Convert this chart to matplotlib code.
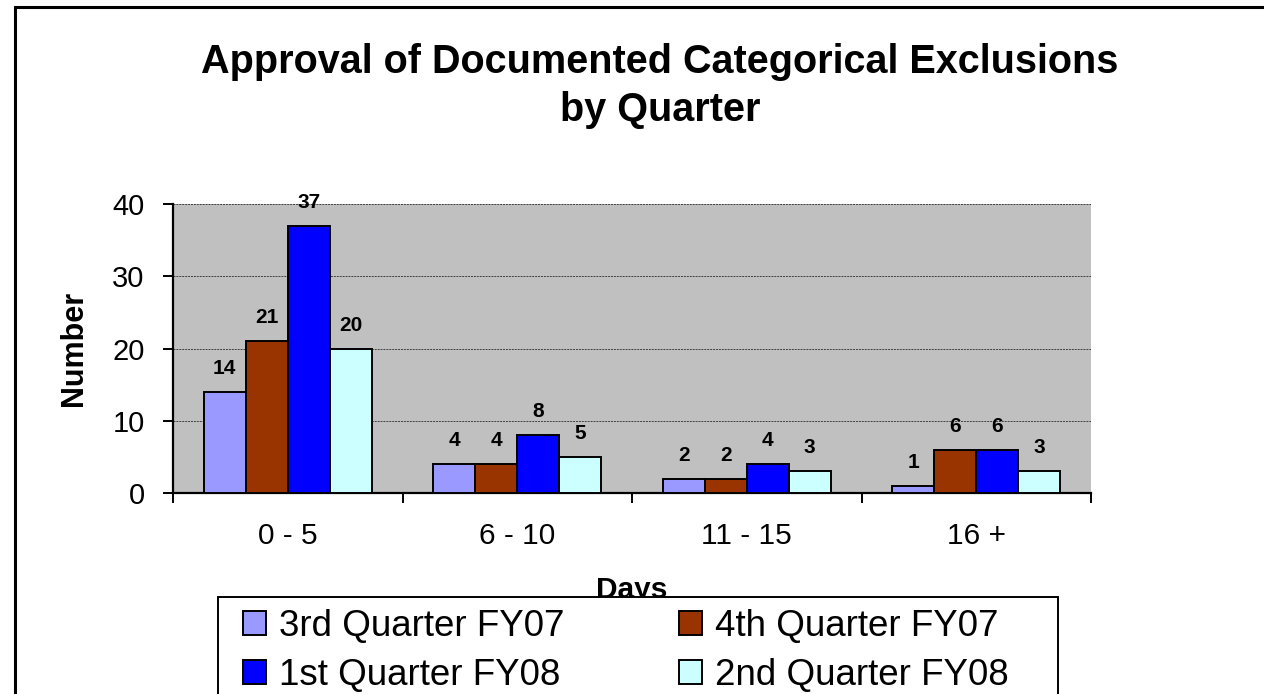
import numpy as np
import matplotlib.pyplot as plt
from matplotlib.patches import Rectangle

plt.rcParams['font.family'] = ['Liberation Sans', 'DejaVu Sans']

categories = ['0 - 5', '6 - 10', '11 - 15', '16 +']
series_names = ['3rd Quarter FY07', '4th Quarter FY07', '1st Quarter FY08', '2nd Quarter FY08']
q3_fy07 = [14, 4, 2, 1]
q4_fy07 = [21, 4, 2, 6]
q1_fy08 = [37, 8, 4, 6]
q2_fy08 = [20, 5, 3, 3]
colors = ['#9999FF', '#993300', '#0000FF', '#CCFFFF']

W, H = 1264, 694
fig = plt.figure(figsize=(W / 100, H / 100), dpi=100)

# outer chart border (right and bottom run off the picture)
fig.patches.append(Rectangle((15 / W, -0.05), 1.1, 1.05 - 7 / H,
                             transform=fig.transFigure, fill=False,
                             edgecolor='black', linewidth=2.2, zorder=0))

ax = fig.add_axes([173 / W, (H - 493) / H, (1091 - 173) / W, (493 - 204) / H])
ax.set_facecolor('#C0C0C0')

x = np.arange(len(categories))
bw = 0.183
all_series = [q3_fy07, q4_fy07, q1_fy08, q2_fy08]
bars = []
for i, (vals, c, name) in enumerate(zip(all_series, colors, series_names)):
    pos = x + (i - 1.5) * bw
    b = ax.bar(pos, vals, bw, color=c, edgecolor='black',
               linewidth=1.4, label=name, zorder=3)
    bars.append(b)
    for xi, v in zip(pos, vals):
        ax.annotate(str(v), (xi, v), xytext=(0, 10), textcoords='offset points',
                    ha='center', va='bottom', fontsize=15, fontweight='bold', zorder=4)

ax.set_xlim(-0.5, 3.5)
ax.set_ylim(0, 40)
ax.set_yticks([0, 10, 20, 30, 40])
ax.yaxis.grid(True, linestyle=(0, (2, 1)), color='#404040', linewidth=0.7, zorder=1)
ax.set_axisbelow(True)

ax.set_xticks(x)
ax.set_xticklabels(categories, fontsize=21.5)
ax.set_xticks(np.arange(-0.5, 4, 1), minor=True)
ax.tick_params(axis='x', which='major', length=0, pad=21)
ax.tick_params(axis='x', which='minor', length=7.5, width=1.4, direction='out')
ax.tick_params(axis='y', length=7.5, width=1.4, direction='out', labelsize=21, pad=13)

for s in ['top', 'right']:
    ax.spines[s].set_visible(False)
for s in ['left', 'bottom']:
    ax.spines[s].set_linewidth(1.6)

ax.set_xlabel('Days', fontsize=21.5, fontweight='bold')
ax.xaxis.set_label_coords(0.5, (493 - 576) / 289)
ax.set_ylabel('Number', fontsize=22, fontweight='bold')
ax.yaxis.set_label_coords((89 - 173) / 918, 0.5)

fig.text(660 / W, 1 - 62 / H, 'Approval of Documented Categorical Exclusions',
         ha='center', va='center', fontsize=28.5, fontweight='bold')
fig.text(660 / W, 1 - 110 / H, 'by Quarter',
         ha='center', va='center', fontsize=28.5, fontweight='bold')

# legend box (runs off the bottom), drawn over the foot of the "Days" label
fig.patches.append(Rectangle((218 / W, -0.05), (1058 - 218) / W, 0.05 + (H - 597) / H,
                             transform=fig.transFigure, facecolor='white',
                             edgecolor='black', linewidth=1.4, zorder=1))
leg_kw = dict(loc='upper left', frameon=False, fontsize=26.5, handlelength=0.62,
              handleheight=0.62, handletextpad=0.35, labelspacing=0.39,
              borderaxespad=0, borderpad=0)
leg1 = fig.legend(handles=[bars[0], bars[2]], labels=[series_names[0], series_names[2]],
                  bbox_to_anchor=(243 / W, 1 - 609 / H), **leg_kw)
leg2 = fig.legend(handles=[bars[1], bars[3]], labels=[series_names[1], series_names[3]],
                  bbox_to_anchor=(679 / W, 1 - 609 / H), **leg_kw)
for lg in (leg1, leg2):
    lg.set_zorder(5)
    for p in lg.get_patches():
        p.set_linewidth(1.4)

fig.savefig('out.png', dpi=100)
